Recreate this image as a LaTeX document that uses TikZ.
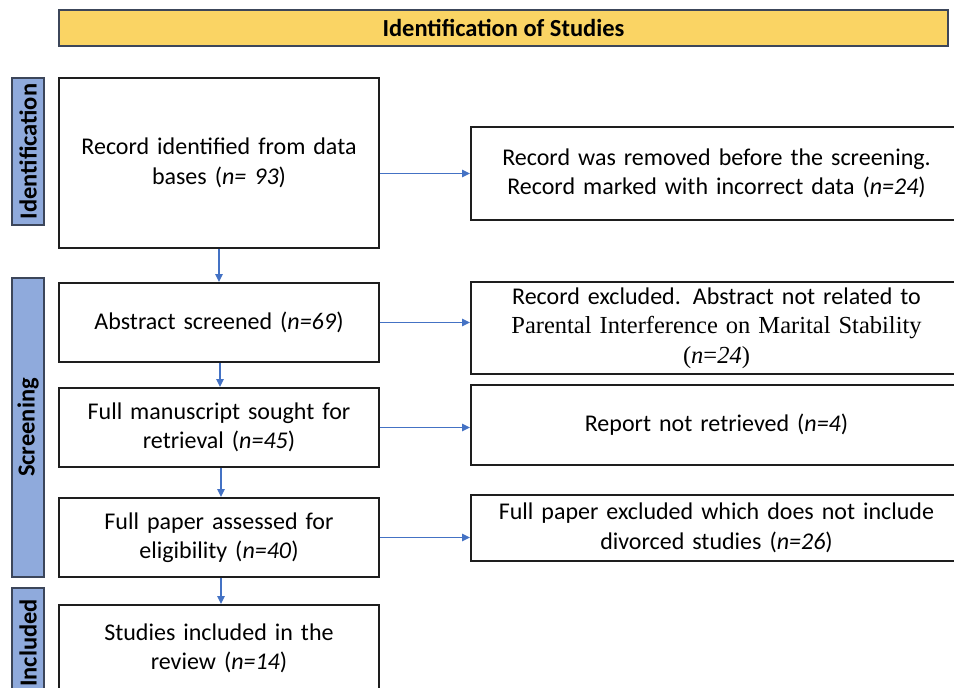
\documentclass[tikz,border=0pt]{standalone}
\usepackage{fontspec}
\setmainfont{Carlito}
\newfontfamily\serifb{Liberation Serif}
\usetikzlibrary{arrows.meta}
\definecolor{bannerY}{RGB}{250,212,100}
\definecolor{sideB}{RGB}{143,170,220}
\definecolor{sideE}{RGB}{60,70,90}
\definecolor{arrB}{RGB}{68,114,196}
\definecolor{boxE}{RGB}{30,30,30}
\tikzset{
  flowbox/.style={draw=boxE, line width=2pt, fill=white, rectangle, inner sep=0pt, align=center,
    font=\fontsize{24}{29.5}\selectfont},
  sidelabel/.style={draw=sideE, line width=1.2pt, fill=sideB, rectangle, inner sep=0pt},
  sidetext/.style={rotate=90, inner sep=0pt, font=\fontsize{24.5}{28}\selectfont\bfseries},
  banner/.style={draw=sideE, line width=1.2pt, fill=bannerY, rectangle, inner sep=0pt,
    font=\fontsize{24.5}{28}\selectfont\bfseries},
  flowarrow/.style={draw=arrB, line width=1.6pt, -{Triangle[length=8pt,width=7.5pt]}}
}
\begin{document}
\begin{tikzpicture}[x=1pt,y=-1pt]
\useasboundingbox (0,0) rectangle (954,688);
\clip (0,0) rectangle (954,688);
% banner
\node[banner, minimum width=889pt, minimum height=36pt] (ban) at (503.5,28) {Identification of Studies};
% side labels
\node[sidelabel, minimum width=32pt, minimum height=147pt] (sid) at (28,151.5) {};
\node[sidetext] (sidt) at (sid.center) {Identification};
\node[sidelabel, minimum width=32pt, minimum height=299pt] (sscr) at (28,427.5) {};
\node[sidetext] (sscrt) at (sscr.center) {Screening};
\node[sidelabel, minimum width=32pt, minimum height=112pt] (sinc) at (28,644) {};
\node[sidetext] (sinct) at (28,643) {Included};
% left boxes
\node[flowbox, minimum width=320pt, minimum height=170pt, text width=310pt] (b1) at (219,163)
  {Record identified from data\\ bases (\textit{n= 93})};
\node[flowbox, minimum width=320pt, minimum height=79pt, text width=310pt] (b2) at (219,322.5)
  {Abstract screened (\textit{n=69})};
\node[flowbox, minimum width=320pt, minimum height=79pt, text width=310pt] (b3) at (219,427.5)
  {Full manuscript sought for\\ retrieval (\textit{n=45})};
\node[flowbox, minimum width=320pt, minimum height=79pt, text width=310pt] (b4) at (219,537.5)
  {Full paper assessed for\\ eligibility (\textit{n=40})};
\node[flowbox, minimum width=320pt, minimum height=87pt, text width=310pt] (b5) at (219,648.5)
  {Studies included in the\\ review (\textit{n=14})};
% right boxes
\node[flowbox, minimum width=491pt, minimum height=93pt, text width=480pt] (r1) at (716.5,173.5)
  {Record was removed before the screening.\\ Record marked with incorrect data (\textit{n=24})};
\node[flowbox, minimum width=491pt, minimum height=92pt, text width=480pt] (r2) at (716.5,328)
  {Record excluded. Abstract not related to\\ {\serifb\fontsize{24.5}{29.5}\selectfont Parental Interference on Marital Stability}\\ {\serifb\fontsize{24.5}{29.5}\selectfont(\textit{n}=\textit{24})}};
\node[flowbox, minimum width=491pt, minimum height=80pt, text width=480pt] (r3) at (716.5,425)
  {Report not retrieved (\textit{n=4})};
\node[flowbox, minimum width=491pt, minimum height=66pt, text width=480pt] (r4) at (716.5,528)
  {Full paper excluded which does not include\\ divorced studies (\textit{n=26})};
% arrows
\draw[flowarrow] (b1.east |- r1.west) -- (r1.west);
\draw[flowarrow] (b2.east) -- (b2.east -| r2.west);
\draw[flowarrow] (b3.east) -- (b3.east -| r3.west);
\draw[flowarrow] (b4.east) -- (b4.east -| r4.west);
\draw[flowarrow] (b1.south) -- (b2.north);
\draw[flowarrow] ([xshift=1pt]b2.south) -- ([xshift=1pt]b3.north);
\draw[flowarrow] ([xshift=2pt]b3.south) -- ([xshift=2pt]b4.north);
\draw[flowarrow] ([xshift=2pt]b4.south) -- ([xshift=2pt]b5.north);
\end{tikzpicture}
\end{document}
